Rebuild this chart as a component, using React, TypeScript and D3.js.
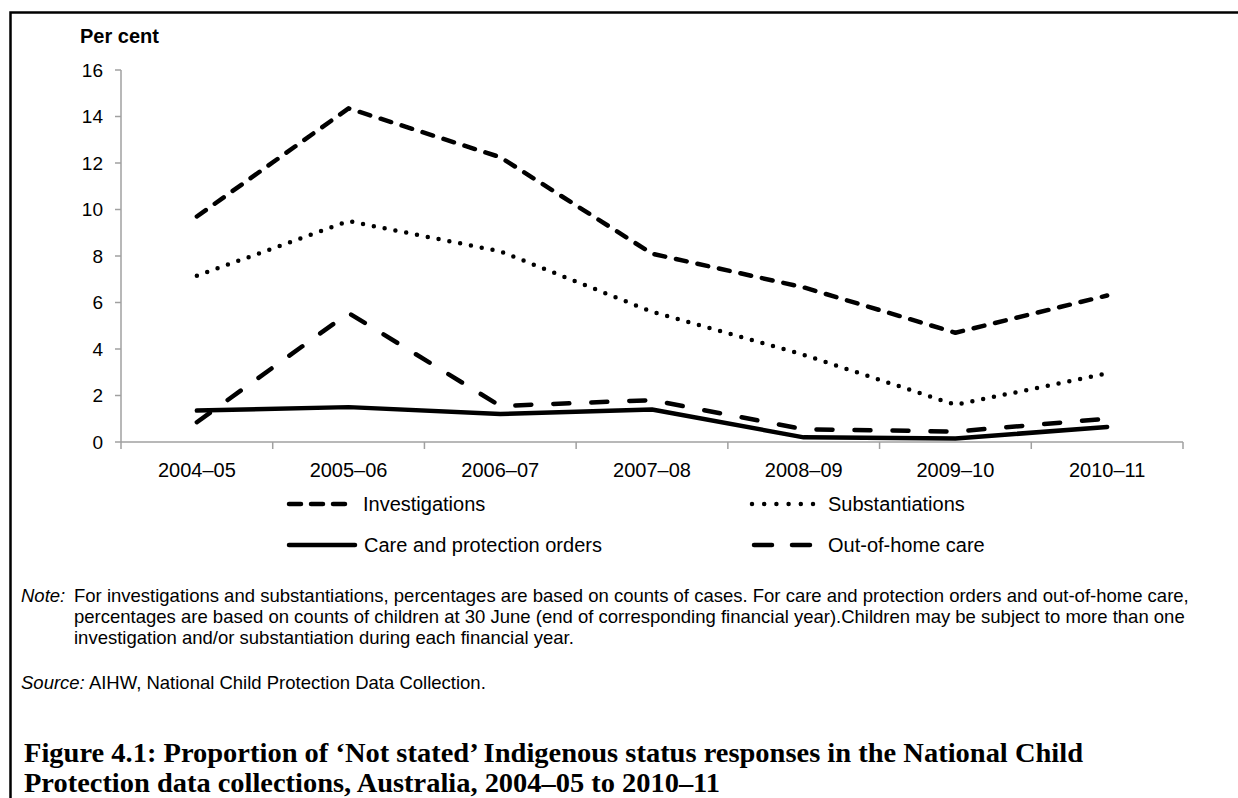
import React from "react";
import * as d3 from "d3";

const categories = ["2004–05", "2005–06", "2006–07", "2007–08", "2008–09", "2009–10", "2010–11"];
const investigations = [9.7, 14.35, 12.25, 8.1, 6.65, 4.7, 6.3];
const substantiations = [7.15, 9.5, 8.2, 5.6, 3.75, 1.6, 2.95];
const careOrders = [1.35, 1.5, 1.2, 1.4, 0.2, 0.15, 0.65];
const outOfHome = [0.85, 5.55, 1.55, 1.8, 0.55, 0.45, 1.0];
const yTicks = [0, 2, 4, 6, 8, 10, 12, 14, 16];

const series = [
  { name: "Investigations", values: investigations, dash: "11 11", legendDash: "12 10" },
  { name: "Substantiations", values: substantiations, dash: "0 11", legendDash: "0 12.2" },
  { name: "Care and protection orders", values: careOrders, dash: "none", legendDash: "none" },
  { name: "Out-of-home care", values: outOfHome, dash: "16 22", legendDash: "18 20" },
];

const noteLines = [
  "For investigations and substantiations, percentages are based on counts of cases. For care and protection orders and out-of-home care,",
  "percentages are based on counts of children at 30 June (end of corresponding financial year).Children may be subject to more than one",
  "investigation and/or substantiation during each financial year.",
];

const titleLines = [
  "Figure 4.1: Proportion of ‘Not stated’ Indigenous status responses in the National Child",
  "Protection data collections, Australia, 2004–05 to 2010–11",
];

export default function App() {
  const W = 1238, H = 798;
  const x = d3.scaleBand().domain(categories).range([121, 1183]);
  const y = d3.scaleLinear().domain([0, 16]).range([442, 70]);
  const line = d3.line<number>().x((_, i) => (x(categories[i]) as number) + x.bandwidth() / 2).y((d) => y(d));
  const sans = "'Liberation Sans', Arial, sans-serif";
  const serif = "'Liberation Serif', serif";
  const axisColor = "#a0a0a0";
  const legendItems = [
    { s: series[0], x0: 289, x1: 347, tx: 363, y: 504 },
    { s: series[1], x0: 752, x1: 813.2, tx: 828, y: 504 },
    { s: series[2], x0: 289, x1: 355, tx: 364, y: 545 },
    { s: series[3], x0: 754, x1: 811, tx: 828, y: 545 },
  ];
  const ticksX = [...categories.map((c) => x(c) as number), 1183];
  const noteSize = 18.5;
  const titleWidths = [1059, 696];
  return (
    <svg width={W} height={H} style={{ position: "absolute", left: 0, top: 0 }} fontFamily={sans}>
      <rect x={0} y={0} width={W} height={H} fill="#fff" />
      <path d="M10.5 820 V12.5 H1260" fill="none" stroke="#000" strokeWidth={2.5} />
      <text x={80} y={43} fontSize={20} fontWeight="bold">Per cent</text>
      {/* y axis */}
      <line x1={121} x2={121} y1={70} y2={442} stroke={axisColor} strokeWidth={1.5} />
      {yTicks.map((t) => (
        <g key={t}>
          <line x1={115} x2={121} y1={y(t)} y2={y(t)} stroke={axisColor} strokeWidth={1.5} />
          <text x={103} y={y(t)} dy="0.35em" textAnchor="end" fontSize={19}>{t}</text>
        </g>
      ))}
      {/* x axis */}
      <line x1={121} x2={1183} y1={442} y2={442} stroke={axisColor} strokeWidth={1.5} />
      {ticksX.map((tx, i) => (
        <line key={i} x1={tx} x2={tx} y1={442} y2={449} stroke={axisColor} strokeWidth={1.5} />
      ))}
      {categories.map((c) => (
        <text key={c} x={(x(c) as number) + x.bandwidth() / 2} y={477} textAnchor="middle" fontSize={20}>{c}</text>
      ))}
      {/* lines */}
      {series.map((s) => (
        <path key={s.name} d={line(s.values) || ""} fill="none" stroke="#000" strokeWidth={4.5}
          strokeDasharray={s.dash} strokeLinecap="round" strokeLinejoin="round" />
      ))}
      {/* legend */}
      {legendItems.map((l) => (
        <g key={l.s.name}>
          <line x1={l.x0} x2={l.x1} y1={l.y} y2={l.y} stroke="#000" strokeWidth={4.5}
            strokeDasharray={l.s.legendDash} strokeLinecap="round" />
          <text x={l.tx} y={l.y} dy="0.35em" fontSize={20}>{l.s.name}</text>
        </g>
      ))}
      {/* notes */}
      <text x={21} y={602} fontSize={noteSize} fontStyle="italic">Note:</text>
      {noteLines.map((t, i) => (
        <text key={i} x={74} y={602 + i * 21} fontSize={noteSize}>{t}</text>
      ))}
      <text x={21} y={689} fontSize={noteSize}>
        <tspan fontStyle="italic">Source:</tspan> AIHW, National Child Protection Data Collection.
      </text>
      {titleLines.map((t, i) => (
        <text key={i} x={24} y={762 + i * 30} fontSize={26.5} fontWeight="bold" fontFamily={serif}
          textLength={titleWidths[i]} lengthAdjust="spacingAndGlyphs">{t}</text>
      ))}
    </svg>
  );
}
